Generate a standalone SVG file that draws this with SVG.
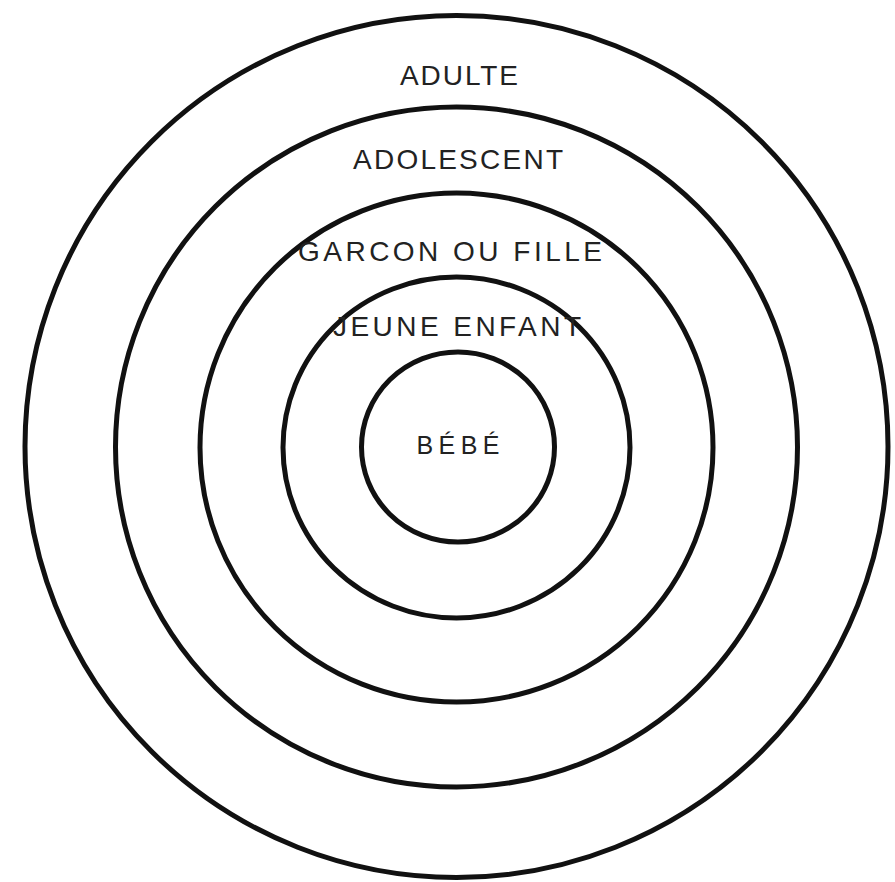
<svg xmlns="http://www.w3.org/2000/svg" width="895" height="882" viewBox="0 0 895 882">
<style>
.ring{fill:none;stroke:#111;stroke-width:5}
.lbl{font-family:"Liberation Sans",Arial,sans-serif;font-size:28px;fill:#222;text-anchor:middle}
</style>
<rect width="895" height="882" fill="#fff"/>
<g id="adulte">
<ellipse class="ring" cx="456.5" cy="446.5" rx="431.5" ry="431"/>
<text class="lbl" x="459" y="85" textLength="118" lengthAdjust="spacing">ADULTE</text>
</g>
<g id="adolescent">
<ellipse class="ring" cx="456.5" cy="447" rx="341" ry="340"/>
<text class="lbl" x="458" y="169" textLength="210" lengthAdjust="spacing">ADOLESCENT</text>
</g>
<g id="garcon-ou-fille">
<ellipse class="ring" cx="456.5" cy="447.5" rx="256.5" ry="254.5"/>
<text class="lbl" x="450" y="261" textLength="304" lengthAdjust="spacing">GARCON OU FILLE</text>
</g>
<g id="jeune-enfant">
<ellipse class="ring" cx="456.5" cy="447.5" rx="173.5" ry="170.5"/>
<text class="lbl" x="457" y="336" textLength="248" lengthAdjust="spacing">JEUNE ENFANT</text>
</g>
<g id="bebe">
<ellipse class="ring" cx="458" cy="447" rx="96.5" ry="95"/>
<text class="lbl" x="458" y="454" textLength="83" lengthAdjust="spacing" style="font-size:25px">BÉBÉ</text>
</g>
<g id="connectors"/>
</svg>
